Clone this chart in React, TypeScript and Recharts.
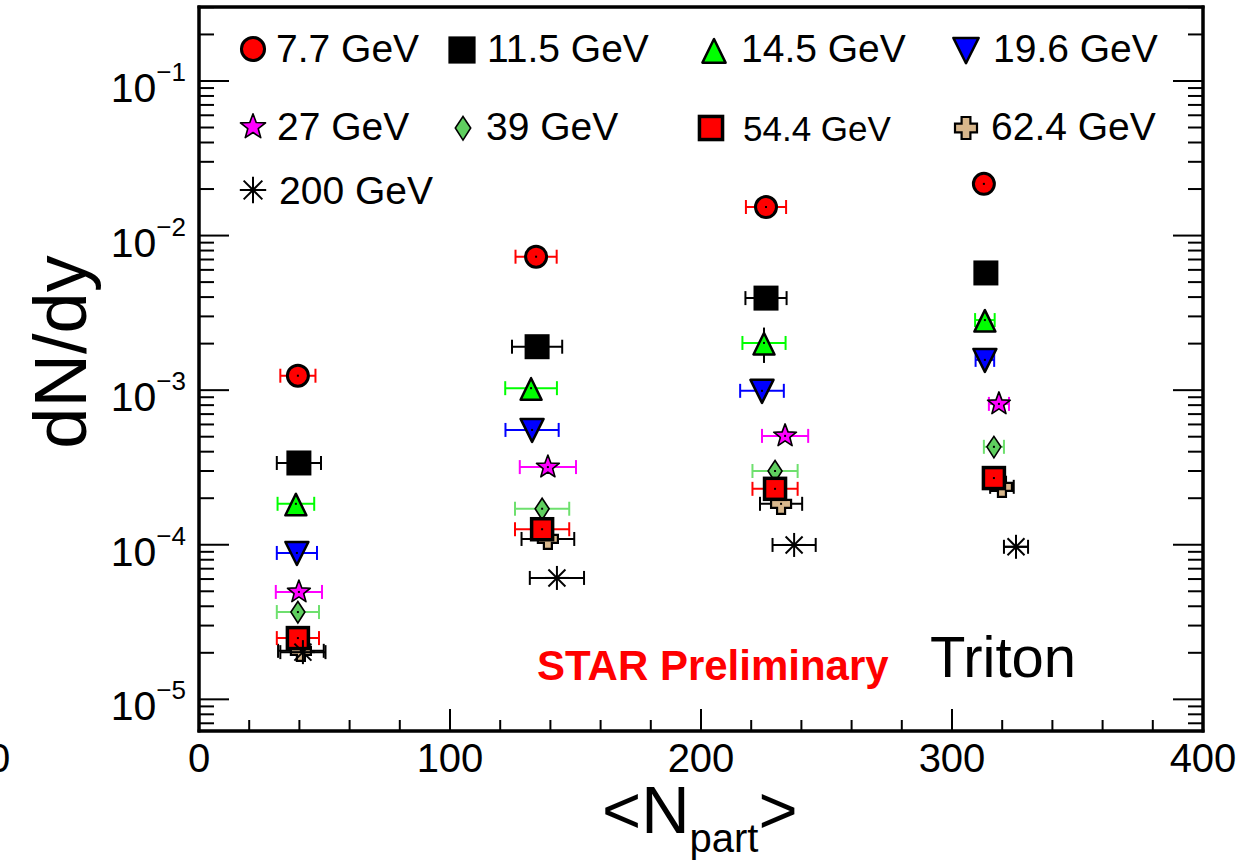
import React from "react";
import { ScatterChart, Scatter, XAxis, YAxis, ErrorBar } from "recharts";

// <Npart>, dN/dy and horizontal errors for each beam energy (triton)
const NPART_7P7 = [39.4, 134.3, 225.9, 312.7];
const DNDY_7P7 = [1.24e-3, 7.3e-3, 1.53e-2, 2.16e-2];
const XERR_7P7 = [7.0, 8.2, 8.0, 2.0];

const NPART_11P5 = [39.8, 134.7, 225.9, 313.5];
const DNDY_11P5 = [3.38e-4, 1.91e-3, 3.94e-3, 5.73e-3];
const XERR_11P5 = [8.8, 10.0, 8.2, 2.0];

const NPART_14P5 = [38.6, 132.3, 225.1, 313.1];
const DNDY_14P5 = [1.84e-4, 1.03e-3, 2.02e-3, 2.84e-3];
const XERR_14P5 = [7.3, 10.3, 8.6, 3.9];
const YERR_14P5 = [0, 0, 5.2e-4, 0];

const NPART_19P6 = [39.0, 132.7, 224.3, 313.1];
const DNDY_19P6 = [8.85e-5, 5.53e-4, 9.9e-4, 1.57e-3];
const XERR_19P6 = [8.0, 10.6, 8.7, 3.7];

const NPART_27 = [39.8, 139.0, 233.5, 318.7];
const DNDY_27 = [4.95e-5, 3.18e-4, 5.06e-4, 8.15e-4];
const XERR_27 = [9.2, 11.2, 9.2, 4.0];

const NPART_39 = [39.4, 136.7, 229.5, 316.7];
const DNDY_39 = [3.67e-5, 1.71e-4, 3.0e-4, 4.3e-4];
const XERR_39 = [8.4, 10.8, 9.0, 4.0];

const NPART_54P4 = [39.4, 136.7, 229.5, 316.7];
const DNDY_54P4 = [2.49e-5, 1.26e-4, 2.3e-4, 2.7e-4];
const XERR_54P4 = [8.4, 10.8, 9.0, 3.0];

const NPART_62P4 = [40.6, 139.0, 231.9, 319.9];
const DNDY_62P4 = [2.06e-5, 1.09e-4, 1.84e-4, 2.37e-4];
const XERR_62P4 = [9.1, 10.5, 8.4, 4.7];

const NPART_200 = [41.4, 142.6, 237.1, 325.5];
const DNDY_200 = [2.02e-5, 6.1e-5, 9.97e-5, 9.7e-5];
const XERR_200 = [9.0, 10.8, 8.6, 4.8];

const X_MAJOR = [0, 100, 200, 300, 400];
const Y_EXPONENTS = [-5, -4, -3, -2, -1];
const X_MIN = 0;
const X_MAX = 400;
const Y_MIN = 6.24e-6;
const Y_MAX = 0.301;

const FONT = "'Liberation Sans', Arial, Helvetica, sans-serif";

type Kind = "circle" | "square" | "triangle" | "invtriangle" | "star" | "diamond" | "redsquare" | "cross" | "asterisk";

const toRows = (xs: number[], ys: number[], xe: number[], ye?: number[]) =>
  xs.map((x, i) => ({ x, y: ys[i], xe: xe[i], ye: ye ? ye[i] : 0 }));

const SERIES: { label: string; rows: any[]; kind: Kind; fill: string; err: string; yerr?: boolean }[] = [
  { label: "7.7 GeV", rows: toRows(NPART_7P7, DNDY_7P7, XERR_7P7), kind: "circle", fill: "#ff0000", err: "#ff0000" },
  { label: "11.5 GeV", rows: toRows(NPART_11P5, DNDY_11P5, XERR_11P5), kind: "square", fill: "#000000", err: "#000000" },
  { label: "14.5 GeV", rows: toRows(NPART_14P5, DNDY_14P5, XERR_14P5, YERR_14P5), kind: "triangle", fill: "#00ff00", err: "#00ff00", yerr: true },
  { label: "19.6 GeV", rows: toRows(NPART_19P6, DNDY_19P6, XERR_19P6), kind: "invtriangle", fill: "#0000ff", err: "#0000ff" },
  { label: "27 GeV", rows: toRows(NPART_27, DNDY_27, XERR_27), kind: "star", fill: "#ff00ff", err: "#ff00ff" },
  { label: "39 GeV", rows: toRows(NPART_39, DNDY_39, XERR_39), kind: "diamond", fill: "#5fcf5f", err: "#6ee06e" },
  { label: "62.4 GeV", rows: toRows(NPART_62P4, DNDY_62P4, XERR_62P4), kind: "cross", fill: "#d8b78c", err: "#000000" },
  { label: "54.4 GeV", rows: toRows(NPART_54P4, DNDY_54P4, XERR_54P4), kind: "redsquare", fill: "#ff0000", err: "#ff0000" },
  { label: "200 GeV", rows: toRows(NPART_200, DNDY_200, XERR_200), kind: "asterisk", fill: "#000000", err: "#000000" },
];

// legend layout (marker centre, text start, baseline, font size)
const LEGEND = [
  { kind: "circle", fill: "#ff0000", mx: 253, my: 49, tx: 276, ty: 62, fs: 39, text: "7.7 GeV" },
  { kind: "square", fill: "#000000", mx: 462, my: 50, tx: 487, ty: 62, fs: 39, text: "11.5 GeV" },
  { kind: "triangle", fill: "#00ff00", mx: 714, my: 50, tx: 741, ty: 62, fs: 39, text: "14.5 GeV" },
  { kind: "invtriangle", fill: "#0000ff", mx: 966, my: 50, tx: 993, ty: 62, fs: 39, text: "19.6 GeV" },
  { kind: "star", fill: "#ff00ff", mx: 253, my: 127, tx: 277, ty: 140, fs: 39, text: "27 GeV" },
  { kind: "diamond", fill: "#5fcf5f", mx: 463, my: 128, tx: 486, ty: 140, fs: 39, text: "39 GeV" },
  { kind: "redsquare", fill: "#ff0000", mx: 711, my: 128, tx: 743, ty: 141, fs: 35, text: "54.4 GeV" },
  { kind: "cross", fill: "#d8b78c", mx: 966, my: 128, tx: 991, ty: 140, fs: 39, text: "62.4 GeV" },
  { kind: "asterisk", fill: "#000000", mx: 253, my: 190, tx: 279, ty: 204, fs: 39, text: "200 GeV" },
] as const;

function Marker({ kind, cx, cy, fill, dot, big }: { kind: Kind; cx: number; cy: number; fill: string; dot?: boolean; big?: boolean }) {
  const k = "#000";
  const s = big ? 1.1 : 1;
  let body: React.ReactNode = null;
  if (kind === "circle") {
    body = <circle cx={cx} cy={cy} r={10.5 * s} fill={fill} stroke={k} strokeWidth={3} />;
  } else if (kind === "square") {
    body = <rect x={cx - 11 * s} y={cy - 11 * s} width={22 * s} height={22 * s} fill={fill} stroke={k} strokeWidth={3} />;
  } else if (kind === "redsquare") {
    body = <rect x={cx - 10.5 * s} y={cy - 10.5 * s} width={21 * s} height={21 * s} fill={fill} stroke={k} strokeWidth={3.5} />;
  } else if (kind === "triangle") {
    body = (
      <polygon
        points={`${cx},${cy - 10 * s} ${cx - 10.5 * s},${cy + 11.5 * s} ${cx + 10.5 * s},${cy + 11.5 * s}`}
        fill={fill} stroke={k} strokeWidth={2.5} strokeLinejoin="round"
      />
    );
  } else if (kind === "invtriangle") {
    body = (
      <polygon
        points={`${cx - 11.5 * s},${cy - 11 * s} ${cx + 11.5 * s},${cy - 11 * s} ${cx},${cy + 12 * s}`}
        fill={fill} stroke={k} strokeWidth={2.5} strokeLinejoin="round"
      />
    );
  } else if (kind === "star") {
    const pts: string[] = [];
    for (let i = 0; i < 10; i++) {
      const r = (i % 2 === 0 ? 12 : 5) * s;
      const a = -Math.PI / 2 + (i * Math.PI) / 5;
      pts.push(`${cx + r * Math.cos(a)},${cy + r * Math.sin(a)}`);
    }
    body = <polygon points={pts.join(" ")} fill={fill} stroke={k} strokeWidth={1.6} strokeLinejoin="round" />;
  } else if (kind === "diamond") {
    body = (
      <polygon
        points={`${cx},${cy - 10.5 * s} ${cx + 7 * s},${cy} ${cx},${cy + 11 * s} ${cx - 7 * s},${cy}`}
        fill={fill} stroke={k} strokeWidth={1.6}
      />
    );
  } else if (kind === "cross") {
    const a = 4 * s, L = 10 * s;
    const p = [
      [-a, -L], [a, -L], [a, -a], [L, -a], [L, a], [a, a],
      [a, L], [-a, L], [-a, a], [-L, a], [-L, -a], [-a, -a],
    ].map(([dx, dy]) => `${cx + dx},${cy + dy}`).join(" ");
    body = <polygon points={p} fill={fill} stroke={k} strokeWidth={2.2} />;
  } else if (kind === "asterisk") {
    const r = 12 * s, d = 8.5 * s;
    body = (
      <g stroke={k} strokeWidth={2}>
        <line x1={cx - r} y1={cy} x2={cx + r} y2={cy} />
        <line x1={cx} y1={cy - r} x2={cx} y2={cy + r} />
        <line x1={cx - d} y1={cy - d} x2={cx + d} y2={cy + d} />
        <line x1={cx - d} y1={cy + d} x2={cx + d} y2={cy - d} />
      </g>
    );
  }
  return (
    <g>
      {body}
      {dot && kind !== "asterisk" && <rect x={cx - 1} y={cy - 1} width={2} height={2} fill="#000" />}
    </g>
  );
}

const isMajorLog = (v: number) => Math.abs(Math.log10(v) - Math.round(Math.log10(v))) < 1e-6;

const Y_TICKS: number[] = [];
for (let e = -6; e <= -1; e++) {
  for (let m = 1; m <= 9; m++) {
    const v = m * Math.pow(10, e);
    if (v >= Y_MIN && v <= Y_MAX) Y_TICKS.push(v);
  }
}
const X_TICKS: number[] = [];
for (let v = X_MIN; v <= X_MAX; v += 20) X_TICKS.push(v);

const BottomTick = ({ x, y, payload }: any) => {
  const major = X_MAJOR.includes(payload.value);
  return (
    <g>
      <line x1={x} x2={x} y1={y} y2={y - (major ? 22 : 11)} stroke="#000" strokeWidth={2} />
      {major && (
        <text x={x} y={y + 41} textAnchor="middle" fontSize={40} fontFamily={FONT} fill="#000">
          {payload.value}
        </text>
      )}
    </g>
  );
};

const TopTick = ({ x, y, payload }: any) => {
  const major = X_MAJOR.includes(payload.value);
  return <line x1={x} x2={x} y1={y} y2={y + (major ? 22 : 11)} stroke="#000" strokeWidth={2} />;
};

const LeftTick = ({ x, y, payload }: any) => {
  const v = payload.value;
  const major = isMajorLog(v);
  const e = Math.round(Math.log10(v));
  return (
    <g>
      <line x1={x} x2={x + (major ? 30 : 15)} y1={y} y2={y} stroke="#000" strokeWidth={2} />
      {major && Y_EXPONENTS.includes(e) && (
        <text x={x - 13} y={y + 21} textAnchor="end" fontSize={41} fontFamily={FONT} fill="#000">
          <tspan>10</tspan>
          <tspan dy={-21} fontSize={26}>{"\u2212" + Math.abs(e)}</tspan>
        </text>
      )}
    </g>
  );
};

const RightTick = ({ x, y, payload }: any) => {
  const major = isMajorLog(payload.value);
  return <line x1={x} x2={x - (major ? 30 : 15)} y1={y} y2={y} stroke="#000" strokeWidth={2} />;
};

const frameLine = { stroke: "#000", strokeWidth: 3, strokeLinecap: "square" as const };

export default function App() {
  return (
    <div style={{ position: "absolute", left: 0, top: 0, width: 1260, height: 864, background: "#fff" }}>
      <ScatterChart width={1260} height={864} margin={{ top: 6, right: 56, bottom: 0, left: 0 }}>
        <XAxis
          xAxisId="b" type="number" dataKey="x" domain={[X_MIN, X_MAX]} ticks={X_TICKS} interval={0}
          height={133} tickSize={0} tickMargin={0} axisLine={frameLine} tick={<BottomTick />}
        />
        <XAxis
          xAxisId="t" orientation="top" type="number" dataKey="x" domain={[X_MIN, X_MAX]} ticks={X_TICKS}
          interval={0} height={1} tickSize={0} tickMargin={0} axisLine={frameLine} tick={<TopTick />}
        />
        <YAxis
          yAxisId="l" type="number" dataKey="y" scale="log" domain={[Y_MIN, Y_MAX]} allowDataOverflow
          ticks={Y_TICKS} interval={0} width={199} tickSize={0} tickMargin={0} axisLine={frameLine} tick={<LeftTick />}
        />
        <YAxis
          yAxisId="r" orientation="right" type="number" dataKey="y" scale="log" domain={[Y_MIN, Y_MAX]}
          allowDataOverflow ticks={Y_TICKS} interval={0} width={1} tickSize={0} tickMargin={0}
          axisLine={frameLine} tick={<RightTick />}
        />
        {/* empty series so the mirrored top/right axes get drawn */}
        <Scatter data={[]} xAxisId="t" yAxisId="r" isAnimationActive={false} />
        {SERIES.map((s) => (
          <Scatter
            key={s.label}
            name={s.label}
            data={s.rows}
            xAxisId="b"
            yAxisId="l"
            isAnimationActive={false}
            shape={(p: any) => <Marker kind={s.kind} cx={p.cx} cy={p.cy} fill={s.fill} dot />}
          >
            <ErrorBar dataKey="xe" direction="x" width={7} stroke={s.err} strokeWidth={2} isAnimationActive={false} />
            {s.yerr && (
              <ErrorBar dataKey="ye" direction="y" width={0} stroke="#000" strokeWidth={2} isAnimationActive={false} />
            )}
          </Scatter>
        ))}
      </ScatterChart>

      <svg
        width={1260}
        height={864}
        style={{ position: "absolute", left: 0, top: 0, pointerEvents: "none" }}
        fontFamily={FONT}
      >
        <rect x={199} y={7} width={1004} height={724} fill="none" stroke="#000" strokeWidth={3} />

        {LEGEND.map((l) => (
          <g key={l.text}>
            <Marker kind={l.kind as Kind} cx={l.mx} cy={l.my} fill={l.fill} big />
            <text x={l.tx} y={l.ty} fontSize={l.fs} fill="#000">{l.text}</text>
          </g>
        ))}

        <text x={537} y={680} fontSize={42} fontWeight="bold" fill="#ff0000">STAR Preliminary</text>
        <text x={930} y={677} fontSize={58} fill="#000">Triton</text>

        <text transform="translate(86,352) rotate(-90)" textAnchor="middle" fontSize={74} fill="#000">dN/dy</text>

        <text x={602} y={833} fontSize={67} fill="#000">
          <tspan>{"<N"}</tspan>
          <tspan fontSize={40} dy={19}>part</tspan>
          <tspan dy={-19}>{">"}</tspan>
        </text>

        <text x={-12} y={772} fontSize={40} fill="#000">0</text>
      </svg>
    </div>
  );
}
